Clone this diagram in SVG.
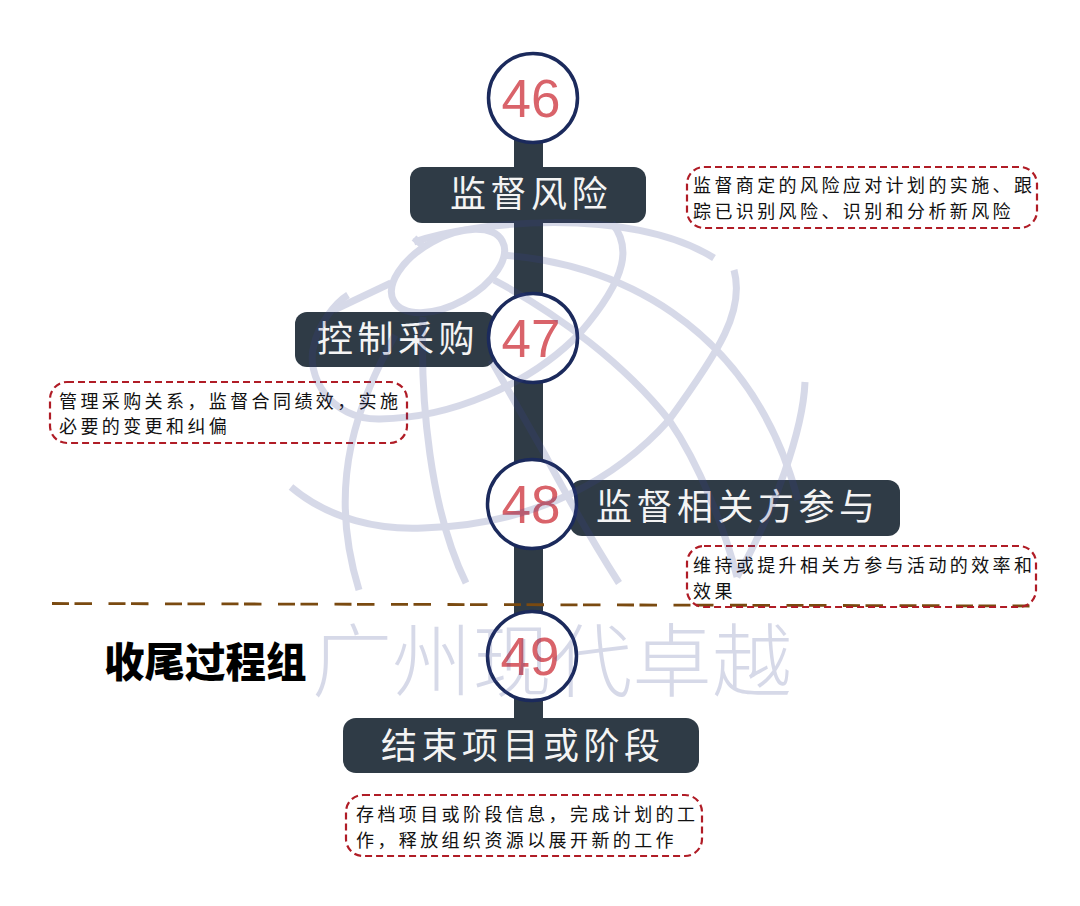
<svg xmlns="http://www.w3.org/2000/svg" width="1080" height="906" viewBox="0 0 1080 906">
<style>
text{font-family:"Noto Sans CJK SC","Noto Sans",sans-serif}
.bar{fill:#2f3b46}
.lbl{fill:#f4f4f4;font-size:36px;letter-spacing:4.5px}
.ring{fill:#fff;stroke:#1b2a5c;stroke-width:3.5}
.num{fill:#d9636a;font-family:"Liberation Sans",Arial,sans-serif;font-size:53px;text-anchor:middle}
.note{fill:#fff;fill-opacity:0;stroke:#b01c26;stroke-width:2.2;stroke-dasharray:7 4}
.nt{fill:#111;font-size:18px;letter-spacing:3.4px}
.wm path,.wm ellipse{fill:none;stroke:#3a4490;stroke-width:7;stroke-linecap:butt}
</style>
<rect width="1080" height="906" fill="#fff"/>
<g id="connectors">
<rect id="trunk" class="bar" x="514" y="135" width="29" height="590"/>
<path id="divider" d="M52 603.5L1034 606" fill="none" stroke="#7a4a10" stroke-width="2.8" stroke-dasharray="17 5.5 17.5 16.5"/>
</g>
<g id="n46">
<circle class="ring" cx="533" cy="98" r="44.5"/>
<text class="num" x="531" y="117">46</text>
<rect class="bar" x="410" y="167" width="236" height="56" rx="12"/>
<text class="lbl" x="450" y="207">监督风险</text>
<rect class="note" x="687" y="167" width="350" height="61" rx="17"/>
<text class="nt" x="693" y="192">监督商定的风险应对计划的实施、跟</text>
<text class="nt" x="693" y="218">踪已识别风险、识别和分析新风险</text>
</g>
<g id="n47">
<rect class="bar" x="295" y="312" width="200" height="55" rx="12"/>
<circle class="ring" cx="533" cy="338" r="44.5"/>
<text class="num" x="531" y="357">47</text>
<text class="lbl" x="317" y="352">控制采购</text>
<rect class="note" x="50" y="382" width="357" height="61" rx="17"/>
<text class="nt" x="59" y="408">管理采购关系，监督合同绩效，实施</text>
<text class="nt" x="59" y="433">必要的变更和纠偏</text>
</g>
<g id="n48">
<rect class="bar" x="570" y="480" width="330" height="56" rx="12"/>
<circle class="ring" cx="532" cy="504" r="44.5"/>
<text class="num" x="531" y="523">48</text>
<text class="lbl" x="596" y="520">监督相关方参与</text>
<rect class="note" x="687" y="546" width="349" height="61" rx="17"/>
<text class="nt" x="693" y="572">维持或提升相关方参与活动的效率和</text>
<text class="nt" x="693" y="598">效果</text>
</g>
<g id="group-label">
<text x="104" y="677" font-size="40.5" font-weight="900" fill="#000">收尾过程组</text>
</g>
<g id="n49">
<circle class="ring" cx="532" cy="656" r="44.5"/>
<text class="num" x="530" y="675">49</text>
<rect class="bar" x="343" y="718" width="356" height="55" rx="13"/>
<text class="lbl" x="381" y="759">结束项目或阶段</text>
<rect class="note" x="346" y="795" width="356" height="61" rx="17"/>
<text class="nt" x="356" y="821">存档项目或阶段信息，完成计划的工</text>
<text class="nt" x="356" y="847">作，释放组织资源以展开新的工作</text>
</g>
<g id="watermark" class="wm" opacity="0.2">
<path d="M414 242C470 222 630 205 714 258"/>
<ellipse cx="448" cy="271" rx="62" ry="33" transform="rotate(-29 448 271)"/>
<path d="M501 255C610 262 750 320 798 500"/>
<path d="M734 270C745 310 720 350 669 420C620 475 540 525 423 528C380 530 330 520 291 487"/>
<path d="M612 223C630 245 630 275 580 333C530 385 450 418 380 419C330 420 305 375 314 345C318 325 335 303 348 295"/>
<path d="M494 280C560 315 625 365 669 420C700 465 725 530 737 577"/>
<path d="M423 317C420 400 430 510 466 583"/>
<path d="M491 360L544 453Q585 530 619 583"/>
<path d="M805 382C803 430 775 510 737 577"/>
<path d="M395 335C360 400 325 480 359 590"/>
<path d="M334 310L391 283"/>
<path d="M414 238L423 246"/>
<text x="312" y="690" font-size="80" font-weight="300" fill="#3a4490">广州现代卓越</text>
</g>
</svg>
